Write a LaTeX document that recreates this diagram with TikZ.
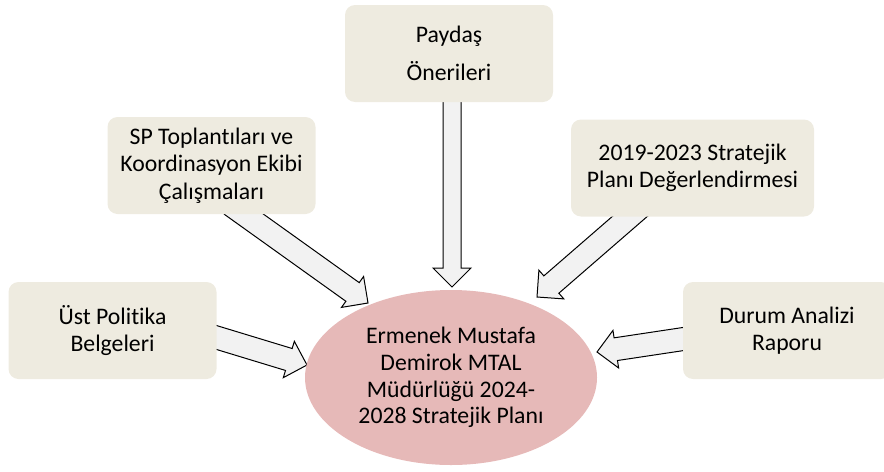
\documentclass[tikz,border=0pt]{standalone}
\usepackage{fontspec}
\setmainfont[Ligatures=NoCommon]{Carlito}
\usetikzlibrary{shapes.geometric,calc,backgrounds}

\definecolor{kutu}{RGB}{238,235,224}
\definecolor{plan}{RGB}{230,185,184}
\definecolor{okdolgu}{RGB}{242,242,242}

\tikzset{
  kaynak/.style={fill=kutu, rounded corners=7.5pt, minimum width=156pt, minimum height=72.75pt,
    inner sep=0pt, align=center, font=\fontsize{17.8}{20.6}\selectfont},
  hedef/.style={ellipse, fill=plan, minimum width=219pt, minimum height=131.25pt,
    inner sep=0pt, align=center, font=\fontsize{17.8}{20}\selectfont},
  blokok/.style={draw=black, fill=okdolgu, line width=0.75pt, line join=miter}
}

% block arrow: [shaft half width]{start}{tip}
\newcommand{\blokok}[3][8.6pt]{%
  \coordinate (bas) at ($(#3)!14.25pt!(#2)$);
  \draw[blokok] ($(#2)!#1!90:(#3)$) -- ($(bas)!#1!90:(#3)$) -- ($(bas)!14.25pt!90:(#3)$) -- (#3)
    -- ($(bas)!14.25pt!270:(#3)$) -- ($(bas)!#1!270:(#3)$) -- ($(#2)!#1!270:(#3)$) -- cycle;
}

\begin{document}
\begin{tikzpicture}[x=0.75pt,y=0.75pt,yscale=-1,xscale=1]
\useasboundingbox (0,0) rectangle (884,471);

% boxes
\node[kaynak] (oneri) at (449,53.5) {Paydaş\\[7.9pt]Önerileri};
\node[kaynak] (toplanti) at (211.5,165.5) {SP Toplantıları ve\\Koordinasyon Ekibi\\Çalışmaları};
\node[kaynak, minimum width=182.25pt] (degerlendirme) at (692.5,168) {2019-2023 Stratejik\\Planı Değerlendirmesi};
\node[kaynak] (politika) at (112.5,330.5) {Üst Politika\\Belgeleri};
\node[kaynak] (durum) at (787,330.5) {Durum Analizi\\Raporu};

% plan
\node[hedef] (plan) at (451,377.5) {Ermenek Mustafa\\Demirok MTAL\\Müdürlüğü 2024-\\2028 Stratejik Planı};

% arrow ends
\coordinate (oneri bas) at (452,95);
\coordinate (oneri uc) at (452,287);
\coordinate (toplanti bas) at (231,205);
\coordinate (toplanti uc) at (368,303);
\coordinate (degerlendirme bas) at (643,205);
\coordinate (degerlendirme uc) at (537,297);
\coordinate (politika bas) at (205,334);
\coordinate (politika uc) at (307,365);
\coordinate (durum bas) at (690,338);
\coordinate (durum uc) at (597,352);

\begin{scope}[on background layer]
  \blokok[6.75pt]{oneri bas}{oneri uc}
  \blokok{toplanti bas}{toplanti uc}
  \blokok{degerlendirme bas}{degerlendirme uc}
  \blokok{politika bas}{politika uc}
  \blokok{durum bas}{durum uc}
\end{scope}

\end{tikzpicture}
\end{document}
